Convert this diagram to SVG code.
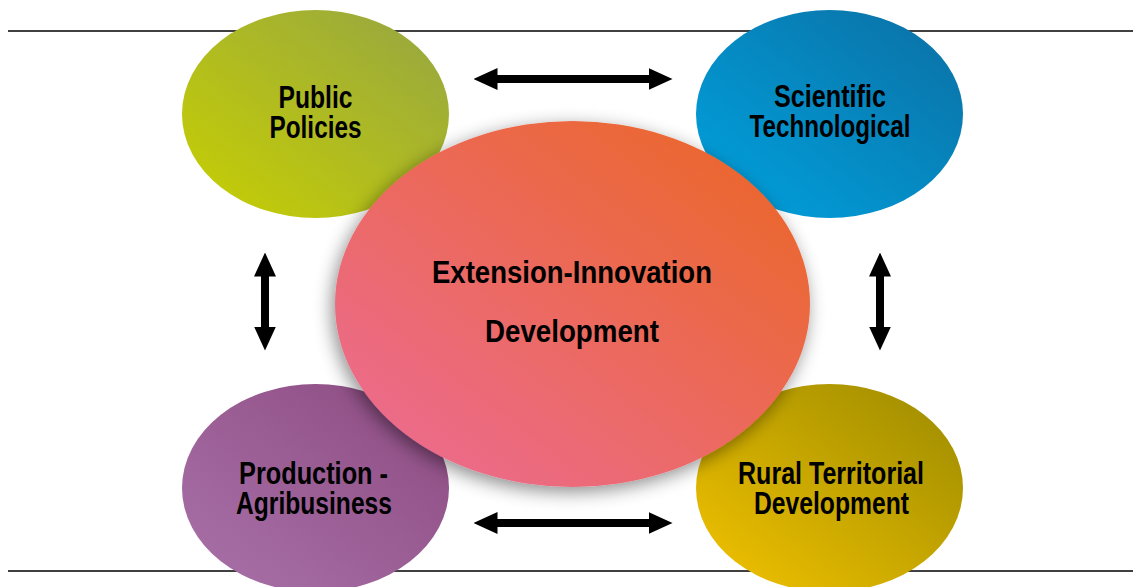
<svg xmlns="http://www.w3.org/2000/svg" width="1133" height="587" viewBox="0 0 1133 587">
  <style>
    .lbl { font-family: "Liberation Sans", Arial, sans-serif; font-weight: bold; font-size: 32px; fill: #000; }
    .rule { stroke: #000; stroke-width: 1.3; }
    .arr { stroke: #000; stroke-width: 8; fill: none; marker-start: url(#ah); marker-end: url(#ah); }
  </style>
  <defs>
    <linearGradient id="gPub" x1="0" y1="1" x2="1" y2="0">
      <stop offset="0" stop-color="#c8d000"/>
      <stop offset="1" stop-color="#95a544"/>
    </linearGradient>
    <linearGradient id="gSci" x1="0" y1="1" x2="1" y2="0">
      <stop offset="0" stop-color="#00a3e0"/>
      <stop offset="1" stop-color="#0b6fa3"/>
    </linearGradient>
    <linearGradient id="gPro" x1="0" y1="1" x2="1" y2="0">
      <stop offset="0" stop-color="#a972aa"/>
      <stop offset="1" stop-color="#8c4a80"/>
    </linearGradient>
    <linearGradient id="gRur" x1="0" y1="1" x2="1" y2="0">
      <stop offset="0" stop-color="#f4c300"/>
      <stop offset="1" stop-color="#9a8a00"/>
    </linearGradient>
    <linearGradient id="gCen" x1="0" y1="1" x2="1" y2="0">
      <stop offset="0" stop-color="#ec6d9a"/>
      <stop offset="1" stop-color="#eb6520"/>
    </linearGradient>
    <filter id="shadow" x="-20%" y="-20%" width="140%" height="140%">
      <feDropShadow dx="-3" dy="5" stdDeviation="9" flood-color="#000" flood-opacity="0.45"/>
    </filter>
    <marker id="ah" viewBox="0 0 24 22" refX="0.5" refY="11" markerWidth="24" markerHeight="22" markerUnits="userSpaceOnUse" orient="auto-start-reverse">
      <path d="M0,0 L24,11 L0,22 Z" fill="#000"/>
    </marker>
  </defs>

  <g id="rules">
    <line class="rule" x1="8" y1="31" x2="1133" y2="31"/>
    <line class="rule" x1="8" y1="571" x2="1133" y2="571"/>
  </g>

  <g id="node-public-policies">
    <ellipse cx="315.5" cy="114" rx="133.5" ry="104" fill="url(#gPub)"/>
    <text class="lbl" x="315.5" y="108" text-anchor="middle" textLength="74" lengthAdjust="spacingAndGlyphs">Public</text>
    <text class="lbl" x="315.5" y="138" text-anchor="middle" textLength="92" lengthAdjust="spacingAndGlyphs">Policies</text>
  </g>

  <g id="node-scientific-technological">
    <ellipse cx="829.5" cy="114" rx="133.5" ry="104" fill="url(#gSci)"/>
    <text class="lbl" x="830" y="107" text-anchor="middle" textLength="112" lengthAdjust="spacingAndGlyphs">Scientific</text>
    <text class="lbl" x="830" y="137" text-anchor="middle" textLength="161" lengthAdjust="spacingAndGlyphs">Technological</text>
  </g>

  <g id="node-production-agribusiness">
    <ellipse cx="315.5" cy="488" rx="133.5" ry="104" fill="url(#gPro)"/>
    <text class="lbl" x="313.5" y="484" text-anchor="middle" textLength="149" lengthAdjust="spacingAndGlyphs">Production -</text>
    <text class="lbl" x="314" y="514" text-anchor="middle" textLength="156" lengthAdjust="spacingAndGlyphs">Agribusiness</text>
  </g>

  <g id="node-rural-territorial-development">
    <ellipse cx="829.5" cy="488" rx="133.5" ry="104" fill="url(#gRur)"/>
    <text class="lbl" x="831" y="484" text-anchor="middle" textLength="186" lengthAdjust="spacingAndGlyphs">Rural Territorial</text>
    <text class="lbl" x="831.5" y="514" text-anchor="middle" textLength="155" lengthAdjust="spacingAndGlyphs">Development</text>
  </g>

  <g id="node-extension-innovation">
    <ellipse cx="572.5" cy="304" rx="237.5" ry="183" fill="url(#gCen)" filter="url(#shadow)"/>
    <text class="lbl" x="572" y="283" text-anchor="middle" textLength="280" lengthAdjust="spacingAndGlyphs">Extension-Innovation</text>
    <text class="lbl" x="572" y="342" text-anchor="middle" textLength="174" lengthAdjust="spacingAndGlyphs">Development</text>
  </g>

  <g id="connectors">
    <line class="arr" x1="497" y1="79" x2="649" y2="79"/>
    <line class="arr" x1="497" y1="523" x2="649" y2="523"/>
    <line class="arr" x1="265" y1="276" x2="265" y2="327"/>
    <line class="arr" x1="880" y1="276" x2="880" y2="327"/>
  </g>
</svg>
